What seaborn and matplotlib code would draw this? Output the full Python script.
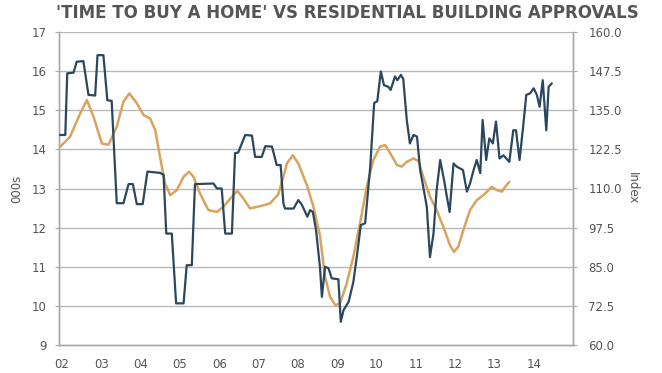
import matplotlib
matplotlib.use("Agg")
import matplotlib.pyplot as plt
import seaborn as sns
import pandas as pd

# 'Time to buy a home' index (right axis)
blue_t = [2001.95, 2002.08, 2002.13, 2002.29, 2002.37, 2002.54, 2002.67, 2002.84, 2002.90, 2003.05,
          2003.15, 2003.26, 2003.39, 2003.56, 2003.69, 2003.80, 2003.90, 2004.05, 2004.17, 2004.49,
          2004.58, 2004.65, 2004.79, 2004.90, 2005.09, 2005.17, 2005.30, 2005.38, 2005.85, 2005.94,
          2006.06, 2006.15, 2006.32, 2006.40, 2006.48, 2006.66, 2006.83, 2006.91, 2007.08, 2007.17,
          2007.34, 2007.46, 2007.56, 2007.63, 2007.67, 2007.89, 2008.01, 2008.10, 2008.24, 2008.31,
          2008.38, 2008.46, 2008.56, 2008.61, 2008.69, 2008.78, 2008.86, 2009.03, 2009.09, 2009.16,
          2009.29, 2009.41, 2009.51, 2009.60, 2009.71, 2009.84, 2009.94, 2010.02, 2010.11, 2010.19,
          2010.30, 2010.36, 2010.47, 2010.53, 2010.62, 2010.68, 2010.77, 2010.85, 2010.94, 2011.03,
          2011.11, 2011.19, 2011.28, 2011.36, 2011.45, 2011.53, 2011.62, 2011.72, 2011.79, 2011.86,
          2011.96, 2012.04, 2012.20, 2012.30, 2012.38, 2012.47, 2012.55, 2012.64, 2012.70, 2012.79,
          2012.87, 2012.96, 2013.04, 2013.13, 2013.23, 2013.38, 2013.48, 2013.55, 2013.64, 2013.74,
          2013.81, 2013.91, 2014.00, 2014.08, 2014.15, 2014.23, 2014.32, 2014.38, 2014.46]
blue_v = [127.1, 127.1, 146.8, 147.0, 150.5, 150.7, 139.9, 139.7, 152.6, 152.6,
          138.2, 138.0, 105.3, 105.3, 111.4, 111.4, 105.0, 105.0, 115.4, 115.0,
          114.4, 95.6, 95.6, 73.3, 73.3, 85.5, 85.5, 111.4, 111.6, 110.0,
          110.0, 95.6, 95.6, 121.3, 121.5, 127.1, 126.9, 120.1, 120.1, 123.5,
          123.4, 117.5, 117.5, 105.3, 103.6, 103.6, 106.3, 104.8, 101.0, 103.1,
          102.5, 96.8, 85.0, 75.4, 85.0, 84.5, 81.3, 81.0, 67.4, 71.1,
          73.8, 80.1, 89.3, 98.3, 98.9, 116.9, 137.3, 137.9, 147.4, 143.0,
          142.5, 141.5, 145.8, 144.6, 146.3, 145.0, 131.9, 124.4, 127.1, 126.6,
          115.9, 110.5, 104.1, 88.1, 95.6, 109.5, 119.1, 112.6, 107.4, 102.5,
          118.0, 117.0, 115.9, 109.0, 111.6, 115.9, 119.1, 114.9, 131.9, 119.1,
          126.0, 124.4, 131.4, 119.6, 120.6, 118.5, 128.6, 128.6, 119.1, 130.8,
          139.9, 140.4, 142.0, 139.9, 136.1, 144.6, 128.6, 142.5, 143.6]

# Residential building approvals, 000s (left axis)
orange_t = [2001.95, 2002.20, 2002.46, 2002.63, 2002.80, 2003.01, 2003.18, 2003.39, 2003.56, 2003.71,
            2003.90, 2004.07, 2004.24, 2004.37, 2004.49, 2004.62, 2004.75, 2004.92, 2005.09, 2005.23,
            2005.34, 2005.51, 2005.72, 2005.94, 2006.10, 2006.32, 2006.46, 2006.61, 2006.78, 2007.04,
            2007.29, 2007.50, 2007.63, 2007.72, 2007.87, 2008.01, 2008.23, 2008.39, 2008.56, 2008.69,
            2008.82, 2008.95, 2009.07, 2009.24, 2009.41, 2009.58, 2009.75, 2009.92, 2010.09, 2010.22,
            2010.35, 2010.52, 2010.64, 2010.77, 2010.94, 2011.07, 2011.19, 2011.36, 2011.53, 2011.70,
            2011.87, 2011.97, 2012.08, 2012.21, 2012.38, 2012.55, 2012.72, 2012.93, 2013.06, 2013.19,
            2013.27, 2013.38]
orange_v = [14.07, 14.32, 14.92, 15.26, 14.83, 14.15, 14.12, 14.58, 15.22, 15.43,
            15.18, 14.88, 14.79, 14.49, 13.81, 13.13, 12.83, 12.96, 13.30, 13.43,
            13.30, 12.87, 12.45, 12.40, 12.53, 12.79, 12.94, 12.75, 12.49, 12.55,
            12.62, 12.85, 13.30, 13.64, 13.85, 13.64, 13.08, 12.55, 11.80, 10.74,
            10.23, 10.02, 10.06, 10.57, 11.25, 12.11, 13.04, 13.73, 14.07, 14.11,
            13.90, 13.60, 13.56, 13.68, 13.77, 13.70, 13.30, 12.79, 12.45, 12.02,
            11.55, 11.38, 11.51, 11.94, 12.45, 12.70, 12.83, 13.04, 12.96, 12.92,
            13.04, 13.17]

year_ticks = list(range(2002, 2015))
year_labels = ["02", "03", "04", "05", "06", "07", "08", "09", "10", "11", "12", "13", "14"]
left_ticks = [9, 10, 11, 12, 13, 14, 15, 16, 17]
right_ticks = [60.0, 72.5, 85.0, 97.5, 110.0, 122.5, 135.0, 147.5, 160.0]

sns.set_style("white")
plt.rcParams['font.family'] = ['DejaVu Sans']

BLUE = "#2b475e"
ORANGE = "#d9a35e"
TXT = "#555555"
SPINE = "#a8a8a8"
GRID = "#b8b8b8"

fig = plt.figure(figsize=(6.62, 3.73), dpi=100)
ax = fig.add_axes([59/662, 1-345/373, (573-59)/662, (345-32)/373])
ax2 = ax.twinx()

df_o = pd.DataFrame({"t": orange_t, "v": orange_v})
df_b = pd.DataFrame({"t": blue_t, "v": blue_v})

ax.set_ylim(9, 17)
ax.set_yticks(left_ticks)
ax.set_xlim(2001.92, 2015.0)
grid_df = pd.DataFrame({"t": [2001.92, 2015.0] * 8,
                        "v": [y for y in left_ticks[1:] for _ in range(2)],
                        "g": [y for y in left_ticks[1:] for _ in range(2)]})
sns.lineplot(data=grid_df, x="t", y="v", units="g", estimator=None, ax=ax,
             color=GRID, lw=1.0, zorder=1, legend=False)

sns.lineplot(data=df_o, x="t", y="v", ax=ax, color=ORANGE, lw=1.8, sort=False, zorder=2)
sns.lineplot(data=df_b, x="t", y="v", ax=ax2, color=BLUE, lw=1.6, sort=False, zorder=3)

ax2.set_ylim(60, 160)
ax2.set_yticks(right_ticks)
ax2.set_yticklabels([f"{v:.1f}" for v in right_ticks])

ax.set_xlim(2001.92, 2015.0)
ax.set_xticks(year_ticks)
ax.set_xticklabels(year_labels)

for a in (ax, ax2):
    for s in a.spines.values():
        s.set_color(SPINE)
        s.set_linewidth(1.0)
    a.spines["top"].set_visible(False)
    a.tick_params(colors=TXT, labelsize=8.5, length=3, width=0.8, color=SPINE)
ax.tick_params(axis="y", pad=6)
ax2.tick_params(axis="y", pad=8)
ax.tick_params(axis="x", pad=6)

ax.set_xlabel("")
ax2.set_xlabel("")
ax.set_ylabel("000s", color=TXT, fontsize=8.5, labelpad=6)
ax2.set_ylabel("Index", color=TXT, fontsize=8.5, rotation=-90, labelpad=12)

for lbl in ax.get_xticklabels() + ax.get_yticklabels() + ax2.get_yticklabels():
    lbl.set_color(TXT)

fig.text(0.525, 0.965, "'TIME TO BUY A HOME' VS RESIDENTIAL BUILDING APPROVALS",
         ha="center", va="center", fontsize=12, fontweight="bold", color="#555555")

fig.savefig("out.png", dpi=100)
